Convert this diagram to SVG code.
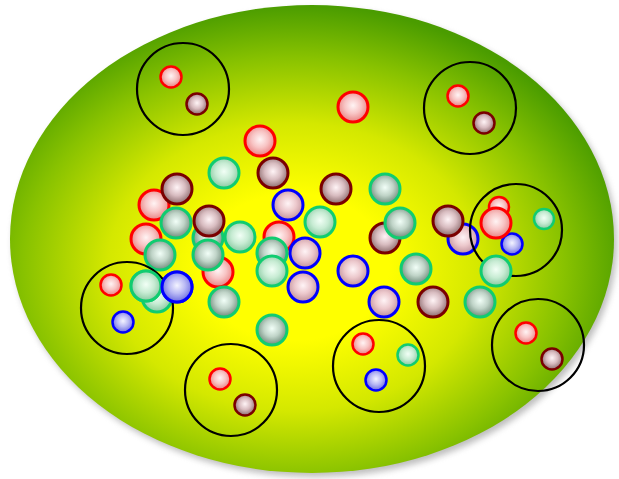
<svg xmlns="http://www.w3.org/2000/svg" width="619" height="479" viewBox="0 0 619 479">
<defs>
<radialGradient id="bg" cx="0.47" cy="0.56" r="0.56">
<stop offset="0" stop-color="#ffff00"/>
<stop offset="0.28" stop-color="#ffff00"/>
<stop offset="0.55" stop-color="#d4e800"/>
<stop offset="0.8" stop-color="#88c200"/>
<stop offset="1" stop-color="#4a9c00"/>
</radialGradient>
<radialGradient id="fr" cx="0.5" cy="0.45" r="0.55"><stop offset="0" stop-color="#fff4f4"/><stop offset="0.5" stop-color="#f8c4c4"/><stop offset="1" stop-color="#e88080"/></radialGradient>
<radialGradient id="fm" cx="0.5" cy="0.45" r="0.55"><stop offset="0" stop-color="#fff4f6"/><stop offset="0.5" stop-color="#d8bcc0"/><stop offset="1" stop-color="#8a6a6c"/></radialGradient>
<radialGradient id="fg" cx="0.5" cy="0.45" r="0.55"><stop offset="0" stop-color="#f2fff8"/><stop offset="0.5" stop-color="#c0d4c8"/><stop offset="1" stop-color="#6e8a7a"/></radialGradient>
<radialGradient id="fn" cx="0.5" cy="0.45" r="0.55"><stop offset="0" stop-color="#f2fff6"/><stop offset="0.5" stop-color="#c8ecd4"/><stop offset="1" stop-color="#88c8a0"/></radialGradient>
<radialGradient id="fp" cx="0.5" cy="0.45" r="0.55"><stop offset="0" stop-color="#fff4f6"/><stop offset="0.5" stop-color="#ecc8cc"/><stop offset="1" stop-color="#c0909a"/></radialGradient>
<radialGradient id="fb" cx="0.5" cy="0.45" r="0.55"><stop offset="0" stop-color="#f4f4ff"/><stop offset="0.5" stop-color="#b8b8f4"/><stop offset="1" stop-color="#6a6ae0"/></radialGradient>
<filter id="sh" x="-5%" y="-5%" width="110%" height="110%"><feGaussianBlur stdDeviation="3"/></filter>
<style>
.r{fill:url(#fr);stroke:#ff0000}
.m{fill:url(#fm);stroke:#7a0000}
.g{fill:url(#fg);stroke:#10cc70}
.n{fill:url(#fn);stroke:#10cc70}
.p{fill:url(#fp);stroke:#0000ff}
.b{fill:url(#fb);stroke:#0000ff}
.L circle{stroke-width:3}
.S circle{stroke-width:2.5}
.grp{fill:none;stroke:#000;stroke-width:2.2}
</style>
</defs>
<ellipse cx="315" cy="243" rx="302" ry="234" fill="#888" opacity="0.55" filter="url(#sh)"/>
<ellipse id="cell" cx="312" cy="239" rx="302" ry="234" fill="url(#bg)"/>
<g id="main" class="L">
<circle class="r" cx="260" cy="141" r="15"/>
<circle class="r" cx="353" cy="107" r="15"/>
<circle class="n" cx="224" cy="173" r="15"/>
<circle class="m" cx="273" cy="173" r="15"/>
<circle class="r" cx="154" cy="205" r="15"/>
<circle class="m" cx="177" cy="189" r="15"/>
<circle class="r" cx="146" cy="239" r="15"/>
<circle class="g" cx="176" cy="223" r="15"/>
<circle class="g" cx="160" cy="255" r="15"/>
<circle class="p" cx="288" cy="205" r="15"/>
<circle class="m" cx="336" cy="189" r="15"/>
<circle class="g" cx="385" cy="189" r="15"/>
<circle class="n" cx="320" cy="222" r="15"/>
<circle class="g" cx="208" cy="238" r="15"/>
<circle class="m" cx="209" cy="221" r="15"/>
<circle class="r" cx="218" cy="272" r="15"/>
<circle class="g" cx="208" cy="255" r="15"/>
<circle class="n" cx="240" cy="237" r="15"/>
<circle class="r" cx="279" cy="237" r="15"/>
<circle class="g" cx="272" cy="253" r="15"/>
<circle class="n" cx="272" cy="271" r="15"/>
<circle class="p" cx="305" cy="253" r="15"/>
<circle class="p" cx="303" cy="287" r="15"/>
<circle class="g" cx="224" cy="302" r="15"/>
<circle class="g" cx="272" cy="330" r="15"/>
<circle class="n" cx="157" cy="297" r="15"/>
<circle class="n" cx="146" cy="286" r="15"/>
<circle class="b" cx="177" cy="287" r="15"/>
<circle class="m" cx="385" cy="238" r="15"/>
<circle class="g" cx="400" cy="223" r="15"/>
<circle class="p" cx="463" cy="239" r="15"/>
<circle class="m" cx="448" cy="221" r="15"/>
<circle class="p" cx="353" cy="271" r="15"/>
<circle class="g" cx="416" cy="269" r="15"/>
<circle class="p" cx="384" cy="302" r="15"/>
<circle class="m" cx="433" cy="302" r="15"/>
<circle class="g" cx="480" cy="302" r="15"/>
</g>
<g id="group-top-left"><circle class="grp" cx="183" cy="89" r="46"/><g class="S"><circle class="r" cx="171" cy="77" r="10.5"/><circle class="m" cx="197" cy="104" r="10.5"/></g></g>
<g id="group-top-right"><circle class="grp" cx="470" cy="108" r="46"/><g class="S"><circle class="r" cx="458" cy="96" r="10.5"/><circle class="m" cx="484" cy="123" r="10.5"/></g></g>
<g id="group-right"><circle class="grp" cx="516" cy="230" r="46"/><g class="S"><circle class="r" cx="499" cy="207" r="10"/><circle class="n" cx="544" cy="219" r="10"/><circle class="b" cx="512" cy="244" r="10.5"/></g><g class="L"><circle class="r" cx="496" cy="223" r="15"/><circle class="n" cx="496" cy="271" r="15"/></g></g>
<g id="group-left"><circle class="grp" cx="127" cy="308" r="46"/><g class="S"><circle class="r" cx="111" cy="285" r="10.5"/><circle class="b" cx="123" cy="322" r="10.5"/></g></g>
<g id="group-bottom-left"><circle class="grp" cx="231" cy="390" r="46"/><g class="S"><circle class="r" cx="220" cy="379" r="10.5"/><circle class="m" cx="245" cy="405" r="10.5"/></g></g>
<g id="group-bottom-mid"><circle class="grp" cx="379" cy="366" r="46"/><g class="S"><circle class="r" cx="363" cy="344" r="10.5"/><circle class="n" cx="408" cy="355" r="10.5"/><circle class="b" cx="376" cy="380" r="10.5"/></g></g>
<g id="group-bottom-right"><circle class="grp" cx="538" cy="345" r="46"/><g class="S"><circle class="r" cx="526" cy="333" r="10.5"/><circle class="m" cx="552" cy="359" r="10.5"/></g></g>
<g class="L"><circle class="n" cx="146" cy="286" r="15"/><circle class="b" cx="177" cy="287" r="15"/></g>
</svg>
